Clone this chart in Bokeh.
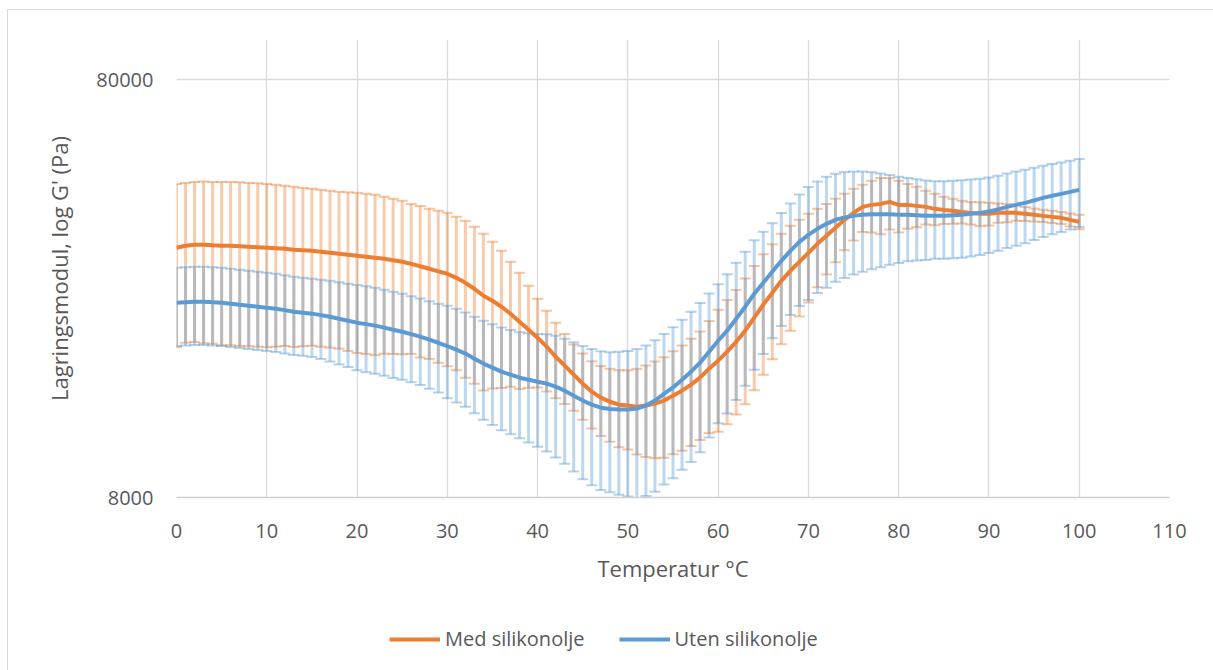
from bokeh.plotting import figure
from bokeh.layouts import column
from bokeh.models import (Range1d, FixedTicker, NumeralTickFormatter, Whisker, TeeHead,
                          ColumnDataSource, Legend, LegendItem)
from bokeh.embed import file_html
from bokeh.resources import INLINE

# Temperature (°C)
temp = list(range(0, 101))

# Med silikonolje: mean storage modulus G' (Pa) and standard deviation (Pa)
med_mean = [31710, 32060, 32230, 32230, 32140, 32060, 32060, 31970, 31880, 31800,
            31710, 31620, 31530, 31360, 31270, 31180, 31010, 30840, 30670, 30500,
            30340, 30170, 30000, 29840, 29590, 29350, 29020, 28630, 28240, 27850,
            27470, 26870, 26140, 25290, 24340, 23680, 22910, 22040, 21090, 20180,
            19310, 18380, 17400, 16550, 15750, 14990, 14340, 13880, 13580, 13350,
            13280, 13200, 13280, 13430, 13650, 14030, 14420, 14910, 15490, 16280,
            17010, 17880, 18880, 20070, 21560, 23170, 24750, 26430, 27930, 29350,
            30840, 32410, 33870, 35400, 36990, 38440, 39730, 40170, 40390, 40840,
            40170, 40170, 39950, 39730, 39300, 39080, 38870, 38650, 38440, 38230,
            38230, 38440, 38440, 38440, 38230, 38020, 37810, 37600, 37400, 36990,
            36580]
med_sd = [13390, 13290, 13370, 13500, 13460, 13540, 13540, 13510, 13470, 13430,
          13390, 13240, 13080, 13010, 12850, 12700, 12630, 12560, 12490, 12550,
          12590, 12520, 12460, 12160, 11940, 11720, 11370, 11320, 11060, 11020,
          10970, 10730, 10650, 10300, 9900, 9090, 8270, 7310, 6530, 5530,
          4630, 4030, 3580, 3150, 2850, 2715, 2630, 2650, 2700, 2790,
          2850, 3065, 3280, 3500, 3690, 3880, 4070, 4280, 4500, 4880,
          5510, 5890, 6230, 6690, 7100, 7420, 7600, 7810, 7860, 7640,
          7390, 6890, 6520, 6130, 5700, 5440, 5130, 5690, 6230, 5780,
          5690, 4930, 4420, 3670, 3390, 2920, 2660, 2420, 2400, 2500,
          2390, 2060, 1950, 1620, 1500, 1380, 1270, 1270, 1250, 1340,
          1440]

# Uten silikonolje: mean storage modulus G' (Pa) and standard deviation (Pa)
uten_mean = [23420, 23490, 23550, 23550, 23490, 23420, 23290, 23160, 23040, 22910,
             22780, 22660, 22480, 22290, 22170, 22050, 21870, 21680, 21440, 21210,
             20980, 20810, 20640, 20410, 20180, 19960, 19690, 19420, 19100, 18780,
             18430, 18080, 17690, 17200, 16740, 16370, 16010, 15750, 15490, 15320,
             15150, 14990, 14750, 14420, 14030, 13650, 13350, 13130, 13030, 12990,
             12990, 13060, 13280, 13650, 14160, 14680, 15320, 16010, 16830, 17880,
             18990, 20070, 21440, 22910, 24610, 26140, 27780, 29510, 31180, 32770,
             34050, 35200, 36180, 36990, 37500, 37810, 38020, 38130, 38130, 38130,
             38020, 38020, 37920, 37810, 37810, 37810, 37920, 38020, 38230, 38440,
             38760, 39190, 39730, 40170, 40620, 41190, 41760, 42230, 42690, 43160,
             43640]
uten_sd = [4970, 4980, 5000, 5000, 4980, 4970, 4950, 4920, 4890, 4870,
           4840, 4810, 4770, 4730, 4700, 4680, 4710, 4750, 4780, 4790,
           4850, 4840, 4800, 4750, 4710, 4650, 4590, 4540, 4520, 4510,
           4600, 4570, 4490, 4470, 4450, 4430, 4420, 4410, 4400, 4480,
           4560, 4680, 4780, 4790, 4800, 4800, 4790, 4790, 4800, 4870,
           4950, 5080, 5210, 5390, 5560, 5780, 6000, 6280, 6560, 6750,
           6940, 7350, 7750, 8100, 8420, 8480, 8540, 8900, 9290, 9780,
           10260, 10500, 10750, 10700, 10650, 10450, 10250, 9950, 9650, 9250,
           8880, 8600, 8350, 8150, 7970, 7980, 7990, 7990, 7990, 7970,
           7960, 8000, 8050, 8100, 8130, 8100, 8090, 8080, 8080, 8080,
           8085]

x_ticks = [0, 10, 20, 30, 40, 50, 60, 70, 80, 90, 100, 110]
y_ticks = [8000, 80000]
series_names = ["Med silikonolje", "Uten silikonolje"]

ORANGE = "#ED7D31"
BLUE = "#5B9BD5"
TXT = "#595959"
GRID = "#D9D9D9"
FONT = "Open Sans"

p = figure(width=1205, height=590, output_backend="svg", toolbar_location=None,
           y_axis_type="log", x_range=Range1d(0, 110), y_range=Range1d(8000, 100000),
           min_border_left=168, min_border_right=44, min_border_top=29, min_border_bottom=103)
p.outline_line_color = None
p.background_fill_color = "white"
p.border_fill_color = "white"

src_med = ColumnDataSource(dict(
    x=temp, y=med_mean,
    lo=[m - s for m, s in zip(med_mean, med_sd)],
    hi=[m + s for m, s in zip(med_mean, med_sd)]))
src_uten = ColumnDataSource(dict(
    x=temp, y=uten_mean,
    lo=[m - s for m, s in zip(uten_mean, uten_sd)],
    hi=[m + s for m, s in zip(uten_mean, uten_sd)]))

for src, col in ((src_med, ORANGE), (src_uten, BLUE)):
    w = Whisker(source=src, base="x", lower="lo", upper="hi", dimension="height",
                line_color=col, line_alpha=0.4, line_width=3,
                upper_head=TeeHead(size=11, line_color=col, line_alpha=0.45, line_width=2),
                lower_head=TeeHead(size=11, line_color=col, line_alpha=0.45, line_width=2))
    p.add_layout(w)

p.line("x", "y", source=src_med, line_color=ORANGE, line_width=4)
p.line("x", "y", source=src_uten, line_color=BLUE, line_width=4)

# axes
p.xaxis.ticker = FixedTicker(ticks=x_ticks)
p.yaxis.ticker = FixedTicker(ticks=y_ticks)
p.yaxis.formatter = NumeralTickFormatter(format="0")
p.xgrid.ticker = FixedTicker(ticks=x_ticks)
p.ygrid.ticker = FixedTicker(ticks=[80000])
p.xgrid.grid_line_color = GRID
p.ygrid.grid_line_color = GRID
p.xgrid.grid_line_width = 1.3
p.ygrid.grid_line_width = 1.3

for ax in (p.xaxis, p.yaxis):
    ax.major_tick_line_color = None
    ax.minor_tick_line_color = None
    ax.major_label_text_font = FONT
    ax.major_label_text_font_size = "20px"
    ax.major_label_text_color = TXT
    ax.axis_label_text_font = FONT
    ax.axis_label_text_font_size = "22px"
    ax.axis_label_text_font_style = "normal"
    ax.axis_label_text_color = TXT

p.yaxis.axis_line_color = None
p.xaxis.axis_line_color = "#D0D0D0"
p.xaxis.axis_line_width = 1.5
p.xaxis.major_label_standoff = 20
p.yaxis.major_label_standoff = 17
p.xaxis.axis_label = "Temperatur °C"
p.yaxis.axis_label = "Lagringsmodul, log G' (Pa)"
p.xaxis.axis_label_standoff = 12
p.yaxis.axis_label_standoff = 19

# legend strip below the chart (its frame is aligned with the chart frame)
lg = figure(width=1205, height=70, output_backend="svg", toolbar_location=None,
            x_range=Range1d(0, 1), y_range=Range1d(0, 1),
            x_axis_location=None, y_axis_location=None,
            min_border_left=0, min_border_right=0, min_border_top=0, min_border_bottom=0)
lg.grid.visible = False
lg.outline_line_color = None
lg.border_fill_color = "white"
l1 = lg.line(x=[5, 6], y=[5, 6], line_color=ORANGE, line_width=4)
l2 = lg.line(x=[5, 6], y=[5, 6], line_color=BLUE, line_width=4)
legend = Legend(items=[LegendItem(label=series_names[0], renderers=[l1]),
                       LegendItem(label=series_names[1], renderers=[l2])],
                orientation="horizontal", location=(213, 18),
                glyph_width=51, glyph_height=20, label_standoff=5, spacing=34,
                padding=0, margin=0, border_line_color=None, background_fill_alpha=0,
                label_text_font=FONT, label_text_font_size="20px", label_text_color=TXT)
lg.add_layout(legend, "center")

layout = column(p, lg, spacing=0,
                styles={"margin-left": "7px", "margin-top": "9px",
                        "border-left": "1px solid #D9D9D9", "border-top": "1px solid #D9D9D9"})

open("out.html", "w").write(file_html(layout, INLINE))
